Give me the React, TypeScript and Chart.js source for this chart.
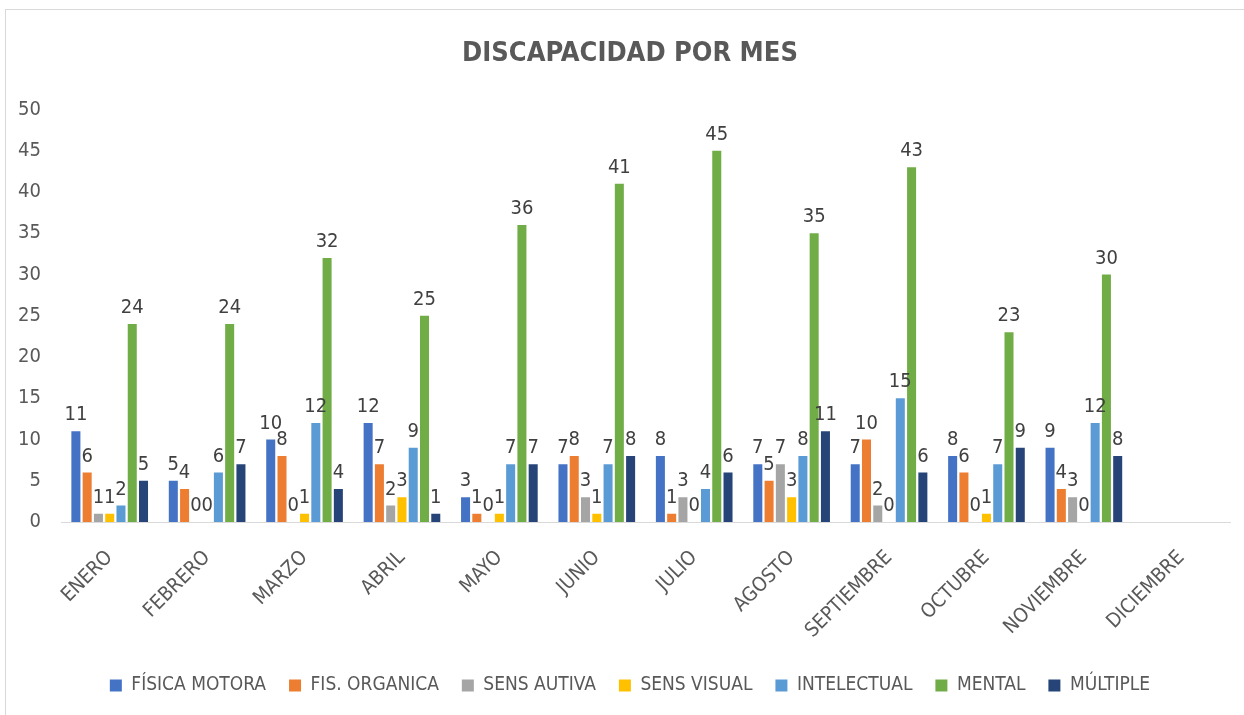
import React, { useEffect, useRef } from "react";
import { Chart, registerables } from "chart.js";

Chart.register(...registerables);

const months = ["ENERO", "FEBRERO", "MARZO", "ABRIL", "MAYO", "JUNIO", "JULIO", "AGOSTO", "SEPTIEMBRE", "OCTUBRE", "NOVIEMBRE", "DICIEMBRE"];
const fisicaMotora = [11, 5, 10, 12, 3, 7, 8, 7, 7, 8, 9, null];
const fisOrganica = [6, 4, 8, 7, 1, 8, 1, 5, 10, 6, 4, null];
const sensAutiva = [1, 0, 0, 2, 0, 3, 3, 7, 2, 0, 3, null];
const sensVisual = [1, 0, 1, 3, 1, 1, 0, 3, 0, 1, 0, null];
const intelectual = [2, 6, 12, 9, 7, 7, 4, 8, 15, 7, 12, null];
const mental = [24, 24, 32, 25, 36, 41, 45, 35, 43, 23, 30, null];
const multiple = [5, 7, 4, 1, 7, 8, 6, 11, 6, 9, 8, null];
const yTicks = [0, 5, 10, 15, 20, 25, 30, 35, 40, 45, 50];

const seriesNames = ["FÍSICA MOTORA", "FIS. ORGANICA", "SENS AUTIVA", "SENS VISUAL", "INTELECTUAL", "MENTAL", "MÚLTIPLE"];
const seriesData = [fisicaMotora, fisOrganica, sensAutiva, sensVisual, intelectual, mental, multiple];
const seriesColors = ["#4472C4", "#ED7D31", "#A5A5A5", "#FFC000", "#5B9BD5", "#70AD47", "#264478"];

const FONT = "'DejaVu Sans Condensed', 'DejaVu Sans', sans-serif";

const dataLabels = {
  id: "dataLabels",
  afterDatasetsDraw(chart: any) {
    const ctx = chart.ctx;
    ctx.save();
    ctx.font = `20px ${FONT}`;
    ctx.fillStyle = "#404040";
    ctx.textAlign = "center";
    ctx.textBaseline = "bottom";
    chart.data.datasets.forEach((ds: any, i: number) => {
      const meta = chart.getDatasetMeta(i);
      meta.data.forEach((bar: any, j: number) => {
        const v = ds.data[j];
        if (v === null || v === undefined) return;
        ctx.fillText(String(v), bar.x, bar.y - 6);
      });
    });
    ctx.restore();
  },
};

// y tick labels drawn to the left of the (narrow) y scale box
const yTickLabels = {
  id: "yTickLabels",
  afterDraw(chart: any) {
    const ctx = chart.ctx;
    const y = chart.scales.y;
    ctx.save();
    ctx.font = `20px ${FONT}`;
    ctx.fillStyle = "#595959";
    ctx.textAlign = "right";
    ctx.textBaseline = "middle";
    y.ticks.forEach((t: any) => {
      ctx.fillText(String(t.value), chart.chartArea.left - 20, y.getPixelForValue(t.value));
    });
    ctx.restore();
  },
};

export default function App() {
  const ref = useRef<HTMLCanvasElement>(null);
  useEffect(() => {
    if (!ref.current) return;
    const chart = new Chart(ref.current, {
      type: "bar",
      data: {
        labels: months,
        datasets: seriesNames.map((name, i) => ({
          label: name,
          data: seriesData[i],
          backgroundColor: seriesColors[i],
          barPercentage: 0.8,
          categoryPercentage: 0.81,
        })),
      },
      options: {
        responsive: false,
        animation: false,
        layout: { padding: { top: 0, left: 24, right: 14, bottom: 10 } },
        plugins: {
          title: {
            display: true,
            text: "DISCAPACIDAD POR MES",
            color: "#595959",
            font: { family: FONT, size: 27, weight: "bold" },
            padding: { top: 28, bottom: 39 },
          },
          legend: {
            position: "bottom",
            labels: {
              color: "#595959",
              font: { family: FONT, size: 19 },
              boxWidth: 12,
              boxHeight: 12,
              padding: 23,
            },
          },
          tooltip: { enabled: false },
        },
        scales: {
          x: {
            grid: { display: false },
            border: { display: true, color: "#D9D9D9", width: 1 },
            ticks: {
              color: "#595959",
              font: { family: FONT, size: 20 },
              minRotation: 45,
              maxRotation: 45,
              autoSkip: false,
              padding: 16,
            },
            afterFit(scale: any) {
              scale.height = 131;
            },
          },
          y: {
            min: 0,
            max: 50,
            afterBuildTicks(scale: any) {
              scale.ticks = yTicks.map((v) => ({ value: v }));
            },
            grid: { display: false },
            border: { display: false },
            ticks: { display: false },
            afterFit(scale: any) {
              scale.width = 31;
            },
          },
        },
      },
      plugins: [dataLabels, yTickLabels],
    });
    return () => chart.destroy();
  }, []);
  return (
    <div
      style={{
        position: "absolute",
        left: 5,
        top: 9,
        width: 1260,
        height: 720,
        border: "1px solid #D9D9D9",
        background: "#fff",
      }}
    >
      <canvas ref={ref} width={1238} height={705} style={{ display: "block" }} />
    </div>
  );
}
